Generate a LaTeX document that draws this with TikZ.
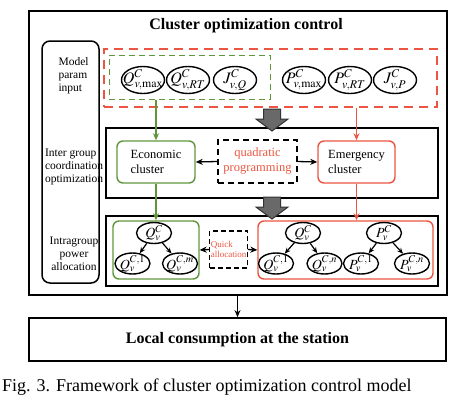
\documentclass[tikz,border=0pt]{standalone}
\usepackage{mathptmx}
\usepackage{fontspec}
\setmainfont{Liberation Serif}
\usetikzlibrary{shapes.geometric,arrows.meta}
\definecolor{cgreen}{RGB}{95,150,60}
\definecolor{cred}{RGB}{235,85,65}
\definecolor{cgray}{RGB}{105,105,105}
\tikzset{
  box/.style={draw,line width=1.8pt,inner sep=0pt},
  rbox/.style={draw,line width=1.4pt,rounded corners=6pt,inner sep=0pt},
  ell/.style={draw,ellipse,line width=1.4pt,inner xsep=-5pt,inner ysep=-3pt,minimum width=43pt,minimum height=27pt,font=\fontsize{16}{16}\selectfont},
  sell/.style={draw,ellipse,line width=1.4pt,inner xsep=-2pt,inner ysep=-2.5pt,minimum width=35pt,minimum height=21pt,font=\fontsize{14}{14}\selectfont},
  arr/.style={-{Stealth[length=7pt,width=6pt]},line width=1.3pt},
  garr/.style={-{Stealth[length=7pt,width=6pt]},line width=1.3pt,draw=cgreen,color=cgreen},
  redarr/.style={-{Stealth[length=7pt,width=6pt]},line width=1.3pt,draw=cred,color=cred},
  tarr/.style={-{Stealth[length=6pt,width=5pt]},line width=1.2pt},
  lbl/.style={font=\fontsize{11.5}{13}\selectfont,align=center},
  blockarr/.style={fill=cgray,draw=black!80,line width=1pt},
}
\begin{document}
\begin{tikzpicture}[x=1pt,y=-1pt]
\useasboundingbox (0,0) rectangle (474,402);
% outer frame
\node[box,minimum width=418pt,minimum height=284pt] (outer) at (238,153) {};
\node[font=\fontsize{16}{18}\selectfont\bfseries] (title) at (246,26) {Cluster optimization control};
% left label box
\node[draw,line width=1.5pt,rounded corners=8pt,minimum width=57pt,minimum height=242pt] (left) at (70.5,162) {};
\node[lbl,align=left,anchor=west] (l1) at (55,76) {Model\\param\\input};
\node[lbl,align=left,anchor=west] (l2) at (41.5,167) {Inter group\\coordination\\optimization};
\node[lbl] (l3) at (74,254) {Intragroup\\power\\allocation};
% parameter input
\node[draw=cred,dashed,dash pattern=on 9pt off 6pt,line width=1.6pt,minimum width=333pt,minimum height=58pt] (rdash) at (270.5,78) {};
\node[draw=cgreen,dashed,dash pattern=on 6pt off 4pt,line width=1pt,minimum width=161pt,minimum height=44pt] (gdash) at (189.5,77) {};
\node[ell] (qmax) at (143,80) {$Q^{C}_{v,\max}$};
\node[ell] (qrt) at (188,80) {$Q^{C}_{v,RT}$};
\node[ell] (jq) at (235,80) {$J^{C}_{v,Q}$};
\node[ell] (pmax) at (304,80) {$P^{C}_{v,\max}$};
\node[ell] (prt) at (350,80) {$P^{C}_{v,RT}$};
\node[ell] (jp) at (395,80) {$J^{C}_{v,P}$};
% inter group box
\node[box,minimum width=332pt,minimum height=70pt] (box2) at (272,163) {};
\node[rbox,draw=cgreen,minimum width=78pt,minimum height=42pt,font=\fontsize{12.5}{15}\selectfont,align=left] (econ) at (156,162) {Economic\\cluster};
\node[draw,dashed,dash pattern=on 6pt off 4pt,line width=1.4pt,minimum width=79pt,minimum height=43pt,font=\fontsize{12.5}{15}\selectfont,text=cred,align=center] (qp) at (257.5,161.5) {quadratic\\programming};
\node[rbox,draw=cred,minimum width=77pt,minimum height=42pt,font=\fontsize{12.5}{15}\selectfont,align=left] (emer) at (356.5,162) {Emergency\\cluster};
% intragroup box
\node[box,minimum width=332pt,minimum height=70pt] (box3) at (272,251) {};
\node[rbox,draw=cgreen,minimum width=86pt,minimum height=58pt] (galloc) at (156,250) {};
\node[rbox,draw=cred,minimum width=175pt,minimum height=58pt] (ralloc) at (345.5,250) {};
\node[draw,dashed,dash pattern=on 5pt off 3pt,line width=1.3pt,minimum width=37pt,minimum height=37pt,font=\fontsize{9}{10.5}\selectfont,text=cred,align=left,inner sep=1pt] (qa) at (228.5,249.5) {Quick\\allocation};
\node[sell] (gq) at (154,233) {$Q^{C}_{v}$};
\node[sell] (gq1) at (132.5,263.5) {$Q^{C,1}_{v}$};
\node[sell] (gqm) at (180,263.5) {$Q^{C,m}_{v}$};
\node[sell] (rq) at (303,233) {$Q^{C}_{v}$};
\node[sell] (rq1) at (276,263.5) {$Q^{C,1}_{v}$};
\node[sell] (rqn) at (324.5,263.5) {$Q^{C,n}_{v}$};
\node[sell] (rp) at (384,233) {$P^{C}_{v}$};
\node[sell] (rp1) at (361,263.5) {$P^{C,1}_{v}$};
\node[sell] (rpn) at (412,263.5) {$P^{C,n}_{v}$};
\draw[tarr] (gq) -- (gq1);
\draw[tarr] (gq) -- (gqm);
\draw[tarr] (rq) -- (rq1);
\draw[tarr] (rq) -- (rqn);
\draw[tarr] (rp) -- (rp1);
\draw[tarr] (rp) -- (rpn);
% connectors
\draw[garr] (gdash.south -| econ.north) -- (econ.north);
\draw[garr] (econ.south) -- (econ.south |- galloc.north);
\draw[redarr] (rdash.south -| emer.north) -- (emer.north);
\draw[redarr] (emer.south) -- (emer.south |- ralloc.north);
\draw[arr] (qp.west) -- (econ.east);
\draw[arr] (qp.east) -- (emer.west);
\draw[arr] (qa.west) -- (galloc.east);
\draw[arr] (qa.east) -- (ralloc.west);
% block arrows
\draw[blockarr] (263.5,109) -- (280.5,109) -- (280.5,119) -- (288,119) -- (272,131) -- (256,119) -- (263.5,119) -- cycle;
\draw[blockarr] (263.5,197) -- (280.5,197) -- (280.5,207) -- (288,207) -- (272,219) -- (256,207) -- (263.5,207) -- cycle;
% output
\node[box,minimum width=417pt,minimum height=43pt,font=\fontsize{16}{18}\selectfont\bfseries] (local) at (237.5,339.5) {Local consumption at the station};
\draw[arr] (outer.south -| local.north) -- (local.north);
\node[anchor=west,font=\fontsize{18}{20}\selectfont,inner sep=0pt] (cap) at (2,387) {Fig. 3. Framework of cluster optimization control model};
\end{tikzpicture}
\end{document}
